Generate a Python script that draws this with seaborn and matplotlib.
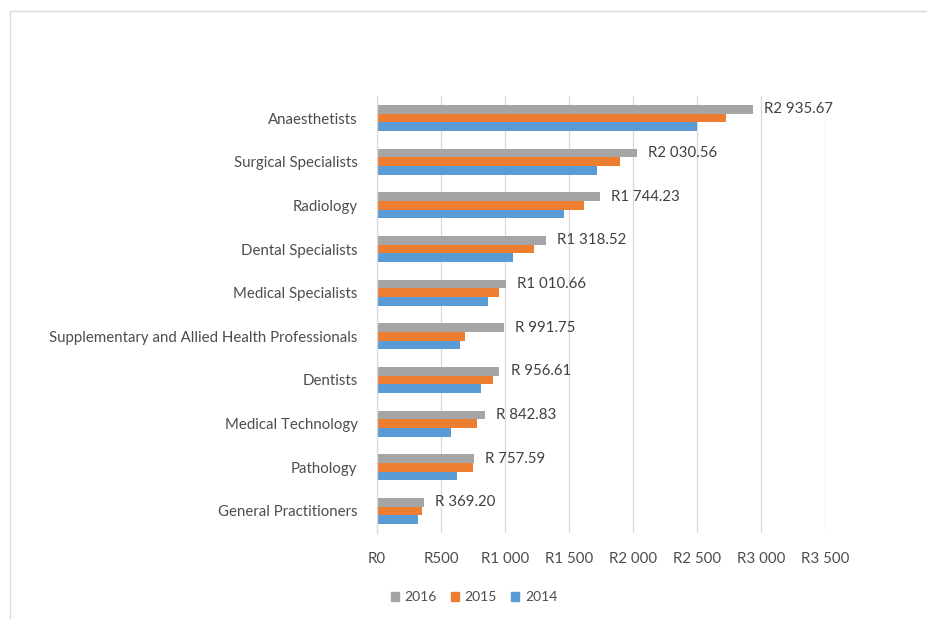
import matplotlib
matplotlib.use("Agg")
import matplotlib.pyplot as plt
import matplotlib.patches as mpatches
import pandas as pd
import seaborn as sns

# Specialty categories (top to bottom) and yearly values in Rand
categories = [
    "Anaesthetists",
    "Surgical Specialists",
    "Radiology",
    "Dental Specialists",
    "Medical Specialists",
    "Supplementary and Allied Health Professionals",
    "Dentists",
    "Medical Technology",
    "Pathology",
    "General Practitioners",
]
values_2016 = [2935.67, 2030.56, 1744.23, 1318.52, 1010.66, 991.75, 956.61, 842.83, 757.59, 369.20]
values_2015 = [2727, 1898, 1615, 1229, 953, 685, 904, 784, 752, 349]
values_2014 = [2502, 1716, 1463, 1060, 870, 651, 810, 576, 625, 323]

years = ["2016", "2015", "2014"]
colors = ["#A5A5A5", "#ED7D31", "#5B9BD5"]
xticks = [0, 500, 1000, 1500, 2000, 2500, 3000, 3500]
xtick_labels = ["R0", "R500", "R1 000", "R1 500", "R2 000", "R2 500", "R3 000", "R3 500"]

series = {"2016": values_2016, "2015": values_2015, "2014": values_2014}
df = pd.DataFrame(
    [(c, y, v) for y in years for c, v in zip(categories, series[y])],
    columns=["category", "year", "value"],
)

sns.set_theme(style="white")
plt.rcParams["font.family"] = ["Lato", "DejaVu Sans"]

fig = plt.figure(figsize=(9.28, 6.19), dpi=100)
ax = fig.add_axes([377 / 928, 1 - 532.8 / 619, (825 - 377) / 928, (532.8 - 96.2) / 619])

sns.barplot(
    data=df, y="category", x="value", hue="year", hue_order=years,
    order=categories, palette=colors, orient="h", width=0.6, gap=0,
    saturation=1, legend=False, linewidth=0, ax=ax,
)

ax.set_xlim(0, 3500)
ax.set_ylim(len(categories) - 0.5, -0.5)
ax.set_xticks(xticks)
ax.set_xticklabels(xtick_labels)
ax.set_xlabel("")
ax.set_ylabel("")
ax.tick_params(axis="both", length=0, colors="#4D4D4D", labelsize=10.8)
ax.tick_params(axis="x", pad=14)
ax.tick_params(axis="y", pad=14)
ax.xaxis.grid(True, color="#D9D9D9", linewidth=0.9)
ax.set_axisbelow(True)
for side in ["top", "right", "bottom"]:
    ax.spines[side].set_visible(False)
ax.spines["left"].set_color("#D9D9D9")
ax.spines["left"].set_linewidth(0.9)


def rand_label(v):
    s = f"{v:,.2f}".replace(",", " ")
    return ("R " + s) if v < 1000 else ("R" + s)


# Value labels on the 2016 bars
ax.bar_label(ax.containers[0], labels=[rand_label(v) for v in values_2016],
             padding=8, fontsize=10.8, color="#404040")

# Legend below the axes
handles = [mpatches.Patch(color=c, label=y) for c, y in zip(colors, years)]
fig.legend(handles=handles, loc="center", bbox_to_anchor=(474 / 928, 1 - 597 / 619),
           ncol=3, frameon=False, handlelength=0.6, handleheight=0.6,
           handletextpad=0.4, columnspacing=1.0, fontsize=10, labelcolor="#4D4D4D")

# Chart area border
fig.patches.append(mpatches.Rectangle(
    (10 / 928, -0.05), 1.2, (619 - 11) / 619 + 0.05, transform=fig.transFigure,
    fill=False, edgecolor="#D9D9D9", linewidth=1.0))

fig.savefig("out.png", dpi=100)
